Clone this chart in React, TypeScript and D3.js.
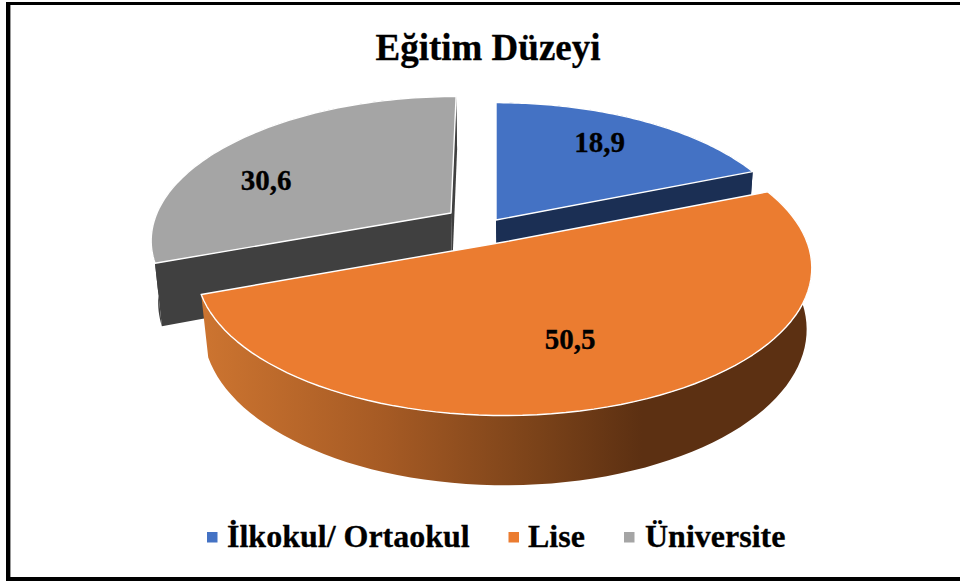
import React from 'react';
import * as d3 from 'd3';

const title = 'Eğitim Düzeyi';
const categories = ['İlkokul/ Ortaokul', 'Lise', 'Üniversite'];
const values = [18.9, 50.5, 30.6];
const valueLabels = ['18,9', '50,5', '30,6'];
const colors = ['#4472C4', '#EB7C30', '#A5A5A5'];
const wallColors = ['#1B2F54', '#5C3012', '#404040'];

const width = 960;
const height = 581;

// each slice is exploded, so it gets its own projected ellipse
const sliceLayout = [
  { cx: 496, cy: 220, rx: 295, ry: 138, shear: 0, labelX: 599.5, labelY: 152 },
  { cx: 504, cy: 242, rx: 303, ry: 143, shear: 0, labelX: 570, labelY: 349 },
  { cx: 451, cy: 213, rx: 294, ry: 137, shear: -6, labelX: 266, labelY: 190 },
];
const perspective = 0.176;
const depth = 60;

const legendLayout = [
  { box: 207, text: 227 },
  { box: 508.5, text: 528 },
  { box: 624, text: 645 },
];

type Layout = (typeof sliceLayout)[number];

const project = (s: Layout, u: number, v: number, lower: boolean): [number, number] => {
  const w = 1 - perspective * v;
  const rx = lower ? s.rx * 0.98 : s.rx;
  const ry = lower ? s.ry + 8 : s.ry;
  const x0 = lower ? s.cx + 1 : s.cx;
  const y0 = lower ? s.cy + depth : s.cy;
  return [x0 + (rx * u + s.shear * v) / w, y0 + (ry * v) / w];
};

const arcPoints = (s: Layout, a0: number, a1: number, lower: boolean) =>
  d3.range(0, 1.0001, 1 / 80).map((t) => {
    const a = a0 + (a1 - a0) * t;
    return project(s, Math.sin(a), -Math.cos(a), lower);
  });

const line = d3.line();

const serif = "'Liberation Serif'";

export default function App() {
  const arcs = d3
    .pie<number>()
    .sort(null)
    .startAngle(0)
    .endAngle(2 * Math.PI)(values);

  // back slices first, the big front slice covers their walls
  const order = [2, 0, 1];

  return (
    <svg
      width={width}
      height={height}
      style={{ position: 'absolute', left: 0, top: 0, background: '#fff' }}
    >
      <defs>
        <linearGradient id="rimLise" gradientUnits="userSpaceOnUse" x1={205} x2={812} y1={0} y2={0}>
          <stop offset="0" stopColor="#CC7430" />
          <stop offset="0.3" stopColor="#A55A24" />
          <stop offset="0.55" stopColor="#7A4219" />
          <stop offset="0.72" stopColor="#5C3012" />
          <stop offset="1" stopColor="#5C3012" />
        </linearGradient>
      </defs>

      {/* frame: the picture is cropped on the right, no line there */}
      <rect x={6} y={2} width={954} height={3} fill="#000" />
      <rect x={6} y={2} width={4} height={579} fill="#000" />
      <rect x={10} y={5} width={1} height={572} fill="#999" />
      <rect x={6} y={577} width={954} height={4} fill="#000" />

      <text
        x={488}
        y={60}
        textAnchor="middle"
        fontFamily={serif}
        fontWeight="bold"
        fontSize={37}
        stroke="#000"
        strokeWidth={0.3}
      >
        {title}
      </text>

      {order.map((i) => {
        const s = sliceLayout[i];
        const { startAngle: a0, endAngle: a1 } = arcs[i];
        const wall = i === 1 ? 'url(#rimLise)' : wallColors[i];
        const upper = arcPoints(s, a0, a1, false);
        const lower = arcPoints(s, a0, a1, true);
        const apex = project(s, 0, 0, false);
        const apexLow = project(s, 0, 0, true);
        return (
          <g key={categories[i]}>
            <path d={line([...upper, ...[...lower].reverse()]) + 'Z'} fill={wall} />
            {/* the big slice's cut faces point backwards, never seen */}
            {i !== 1 && (
              <>
                <path
                  d={line([apex, upper[0], lower[0], apexLow]) + 'Z'}
                  fill={wallColors[i]}
                />
                <path
                  d={line([apex, upper[upper.length - 1], lower[lower.length - 1], apexLow]) + 'Z'}
                  fill={wallColors[i]}
                />
              </>
            )}
            <path
              d={line([apex, ...upper]) + 'Z'}
              fill={colors[i]}
              stroke="#fff"
              strokeWidth={1.4}
              strokeLinejoin="round"
            />
          </g>
        );
      })}

      {valueLabels.map((d, i) => (
        <text
          key={d}
          x={sliceLayout[i].labelX}
          y={sliceLayout[i].labelY}
          textAnchor="middle"
          fontFamily={serif}
          fontWeight="bold"
          fontSize={29}
          stroke="#000"
          strokeWidth={0.3}
        >
          {d}
        </text>
      ))}

      {categories.map((d, i) => (
        <g key={d}>
          <rect x={legendLayout[i].box} y={532} width={10.5} height={10.5} fill={colors[i]} />
          <text
            x={legendLayout[i].text}
            y={547}
            fontFamily={serif}
            fontWeight="bold"
            fontSize={32}
            stroke="#000"
            strokeWidth={0.3}
          >
            {d}
          </text>
        </g>
      ))}
    </svg>
  );
}
